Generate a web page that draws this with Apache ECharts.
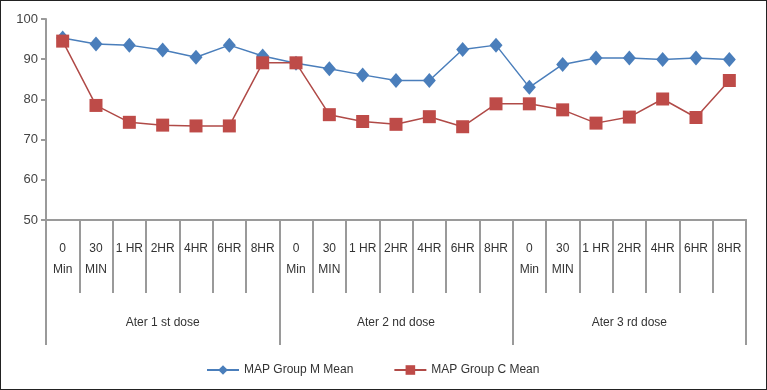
<!DOCTYPE html>
<html><head><meta charset="utf-8">
<script src="https://cdn.jsdelivr.net/npm/echarts@6/dist/echarts.min.js"></script>
<style>
html,body{margin:0;padding:0;background:#fff;}
#c{width:767px;height:390px;box-sizing:border-box;border:1px solid #222;}
</style></head>
<body><div id="c"></div>
<script>
const timeLabels = ['0\nMin','30\nMIN','1 HR','2HR','4HR','6HR','8HR',
                    '0\nMin','30\nMIN','1 HR','2HR','4HR','6HR','8HR',
                    '0\nMin','30\nMIN','1 HR','2HR','4HR','6HR','8HR'];
const doseGroups = ['Ater 1 st dose','Ater 2 nd dose','Ater 3 rd dose'];
const groupM = [95.3,93.8,93.5,92.3,90.5,93.5,90.8, 89.0,87.6,86.1,84.7,84.7,92.4,93.5, 83.0,88.7,90.3,90.3,89.9,90.3,89.9];
const groupC = [94.5,78.5,74.3,73.6,73.4,73.4,89.1, 89.1,76.2,74.5,73.8,75.7,73.2,78.9, 78.9,77.4,74.1,75.6,80.1,75.5,84.7];
const yTicks = {min:50,max:100,interval:10};

const chart = echarts.init(document.getElementById('c'), null, {renderer:'canvas'});
const gray = '#9a9a9a';
const font = 'Arial, "Liberation Sans", sans-serif';
chart.setOption({
  animation:false,
  backgroundColor:'#fff',
  grid:{left:45,right:20,top:18,bottom:169,containLabel:false},
  legend:{
    bottom:13,left:205,padding:0,itemWidth:32,itemHeight:12,itemGap:40,
    textStyle:{color:'#333',fontSize:12,fontFamily:font},
    data:['MAP Group M Mean','MAP Group C Mean']
  },
  xAxis:[{
    type:'category',data:timeLabels,boundaryGap:true,position:'bottom',
    axisLine:{show:true,lineStyle:{color:gray,width:2}},
    axisTick:{show:true,interval:0,length:73,lineStyle:{color:gray,width:2}},
    axisLabel:{show:true,interval:0,margin:18,color:'#333',fontSize:12,lineHeight:21,fontFamily:font}
  },{
    type:'category',data:doseGroups,boundaryGap:true,position:'bottom',
    axisLine:{show:true,lineStyle:{color:gray,width:2}},
    axisTick:{show:true,interval:0,length:125,lineStyle:{color:gray,width:2}},
    axisLabel:{show:true,interval:0,margin:97,color:'#333',fontSize:12,fontFamily:font}
  }],
  yAxis:{
    type:'value',min:yTicks.min,max:yTicks.max,interval:yTicks.interval,
    axisLine:{show:true,lineStyle:{color:gray,width:2}},
    axisTick:{show:true,length:5,lineStyle:{color:gray,width:2}},
    splitLine:{show:false},
    axisLabel:{color:'#444',fontSize:13,margin:8,fontFamily:font}
  },
  series:[{
    name:'MAP Group M Mean',type:'line',data:groupM,xAxisIndex:0,
    symbol:'diamond',symbolSize:[13,15],
    itemStyle:{color:'#4a7ebb'},lineStyle:{color:'#4a7ebb',width:1.5}
  },{
    name:'MAP Group C Mean',type:'line',data:groupC,xAxisIndex:0,
    symbol:'rect',symbolSize:13,
    itemStyle:{color:'#be4b48'},lineStyle:{color:'#b04a47',width:1.5}
  }]
});
</script></body></html>
